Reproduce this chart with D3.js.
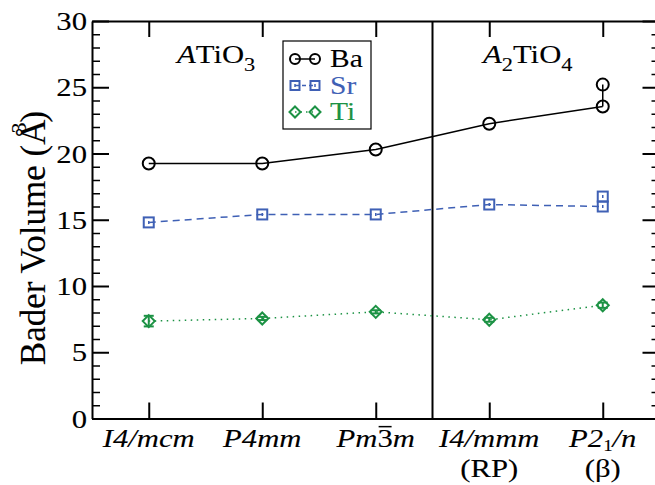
<!DOCTYPE html>
<html>
<head>
<meta charset="utf-8">
<script src="https://cdn.jsdelivr.net/npm/d3@7"></script>
<style>
  body { margin: 0; background: #fff; }
  svg text { font-family: "Liberation Serif", "Times New Roman", Tinos, "DejaVu Serif", serif; fill: currentColor; stroke: currentColor; stroke-width: 0.1; }
  .axis path, .axis line { stroke: #000; stroke-width: 2; }
  .minor line { stroke-width: 1.5; }
</style>
</head>
<body>
<svg id="chart" width="655" height="485"></svg>
<script>
// space groups along the x axis
var categories = ["I4/mcm", "P4mm", "Pm3m", "I4/mmm", "P21/n"];
var subLabels = ["", "", "", "(RP)", "(\u03b2)"];
var yTicks = [0, 5, 10, 15, 20, 25, 30];

// Bader volumes (A^3)
var baVol = [19.25, 19.25, 20.3, 22.25, 23.55];
var srVol = [14.8, 15.4, 15.4, 16.15, 16.0];
var tiVol = [7.35, 7.55, 8.05, 7.45, 8.55];
var tiErr = [0.4, 0.12, 0.12, 0.15, 0.2];
// second site in the beta phase
var baBeta = 25.2;
var srBeta = 16.75;

var svg = d3.select("#chart"),
    margin = {top: 21, left: 92},
    plotW = 567.5,
    plotH = 397.5;

var blue = "#3f60b5", green = "#1c9244";
var sx = 1.18; // the figure's lettering is a bit wide

var x = d3.scaleLinear().domain([-0.5, 4.5]).range([0, plotW]);
var y = d3.scaleLinear().domain([0, 30]).range([plotH, 0]);

var g = svg.append("g").attr("transform", "translate(" + margin.left + "," + margin.top + ")");

// horizontally widened text
function htext(parent, px, py, size, anchor, color) {
    var w = parent.append("g").attr("transform", "translate(" + px + "," + py + ") scale(" + sx + ",1)")
        .style("color", color || "#000");
    var t = w.append("text").attr("font-size", size).attr("text-anchor", anchor || "start");
    return {g: w, t: t};
}

var minorVals = d3.range(0, 31).filter(function(d) { return d % 5 != 0; });

// minor ticks left & right
g.append("g").attr("class", "axis minor")
    .call(d3.axisLeft(y).tickValues(minorVals).tickSize(-8).tickSizeOuter(0).tickFormat(""))
    .select(".domain").remove();
g.append("g").attr("class", "axis minor")
    .attr("transform", "translate(" + plotW + ",0)")
    .call(d3.axisRight(y).tickValues(minorVals).tickSize(-8).tickSizeOuter(0).tickFormat(""))
    .select(".domain").remove();

g.append("g").attr("class", "axis axis--y")
    .call(d3.axisLeft(y).tickValues(yTicks).tickSize(-17).tickSizeOuter(0).tickFormat(""));
g.append("g").attr("class", "axis")
    .attr("transform", "translate(" + plotW + ",0)")
    .call(d3.axisRight(y).tickValues(yTicks).tickSize(-17).tickSizeOuter(0).tickFormat(""));

g.append("g").attr("class", "axis axis--x")
    .attr("transform", "translate(0," + plotH + ")")
    .call(d3.axisBottom(x).tickValues(d3.range(categories.length)).tickSize(-16).tickSizeOuter(0).tickFormat(""));
g.append("g").attr("class", "axis")
    .call(d3.axisTop(x).tickValues(d3.range(categories.length)).tickSize(-16).tickSizeOuter(0).tickFormat(""));

// y tick labels
yTicks.forEach(function(v) {
    htext(g, -5, y(v), 26, "end").t.attr("dy", "0.35em").text(v);
});

// divider between perovskite and RP phases
g.append("line")
    .attr("x1", x(2.5)).attr("x2", x(2.5))
    .attr("y1", 0).attr("y2", plotH)
    .attr("stroke", "#000").attr("stroke-width", 2);

// x labels
categories.forEach(function(c, i) {
    var h = htext(g, x(i), plotH + 28, 26, "middle");
    var t = h.t.attr("font-style", "italic");
    if (c == "Pm3m") {
        t.append("tspan").text("Pm");
        t.append("tspan").attr("font-style", "normal").text("3");
        t.append("tspan").text("m");
        var b = t.node().getExtentOfChar(2);
        h.g.append("line")
            .attr("x1", b.x + 1).attr("x2", b.x + b.width - 1)
            .attr("y1", b.y + 3).attr("y2", b.y + 3)
            .attr("stroke", "#000").attr("stroke-width", 1.5);
    } else if (c == "P21/n") {
        t.append("tspan").text("P2");
        t.append("tspan").attr("font-size", 16).attr("dy", 4).attr("font-style", "normal").text("1");
        t.append("tspan").attr("dy", -4).text("/n");
    } else {
        t.text(c);
    }
    if (subLabels[i]) {
        htext(g, x(i), plotH + 58, 26, "middle").t.text(subLabels[i]);
    }
});

// y label
var yl = svg.append("text")
    .attr("transform", "translate(45,238) rotate(-90)")
    .attr("text-anchor", "middle")
    .attr("font-size", 35);
yl.append("tspan").text("Bader Volume (\u00c5");
yl.append("tspan").attr("font-size", 22).attr("dy", -19).attr("dx", -14).text("3");
yl.append("tspan").attr("dy", 19).text(")");

// structure family labels
function family(px, parts) {
    var t = htext(svg, px, 63, 26, "start").t;
    parts.forEach(function(p) {
        var s = t.append("tspan").text(p[0]);
        if (p[1] == "i") s.attr("font-style", "italic");
        if (p[1] == "sub") s.attr("font-size", 19).attr("dy", 8);
        if (p[2]) s.attr("dy", p[2]);
    });
}
family(177, [["A", "i"], ["TiO", "", 0], ["3", "sub"]]);
family(483, [["A", "i"], ["2", "sub"], ["TiO", "", -8], ["4", "sub"]]);

var idx = d3.range(categories.length);

function lineOf(vals) {
    return d3.line().x(function(d, i) { return x(i); }).y(function(d) { return y(d); })(vals);
}

// lines
g.append("path").attr("d", lineOf(tiVol)).attr("fill", "none")
    .attr("stroke", green).attr("stroke-width", 1.5).attr("stroke-dasharray", "1.5,4.5");
g.append("path").attr("d", lineOf(srVol)).attr("fill", "none")
    .attr("stroke", blue).attr("stroke-width", 1.5).attr("stroke-dasharray", "7,5");
g.append("path").attr("d", lineOf(baVol)).attr("fill", "none")
    .attr("stroke", "#000").attr("stroke-width", 1.5);

// beta phase vertical connector
g.append("line").attr("x1", x(4)).attr("x2", x(4))
    .attr("y1", y(baVol[4])).attr("y2", y(baBeta)).attr("stroke", "#000").attr("stroke-width", 1.5);

// Ti error bars
var eb = g.append("g").attr("stroke", green).attr("stroke-width", 2);
idx.forEach(function(i) {
    eb.append("line").attr("x1", x(i)).attr("x2", x(i))
        .attr("y1", y(tiVol[i] - tiErr[i])).attr("y2", y(tiVol[i] + tiErr[i]));
    [-1, 1].forEach(function(s) {
        eb.append("line").attr("x1", x(i) - 5).attr("x2", x(i) + 5)
            .attr("y1", y(tiVol[i] + s * tiErr[i])).attr("y2", y(tiVol[i] + s * tiErr[i]));
    });
});

// markers
function circle(sel, cx, cy, r) {
    sel.append("circle").attr("cx", cx).attr("cy", cy).attr("r", r)
        .attr("fill", "none").attr("stroke", "#000").attr("stroke-width", 2);
}
function square(sel, cx, cy, s) {
    sel.append("rect").attr("x", cx - s / 2).attr("y", cy - s / 2).attr("width", s).attr("height", s)
        .attr("fill", "none").attr("stroke", blue).attr("stroke-width", 2);
    sel.append("line").attr("x1", cx).attr("x2", cx).attr("y1", cy - 1.5).attr("y2", cy + 1.5)
        .attr("stroke", blue).attr("stroke-width", 1.5);
}
function diamond(sel, cx, cy, s) {
    sel.append("path")
        .attr("d", "M" + cx + "," + (cy - s) + "L" + (cx + s) + "," + cy + "L" + cx + "," + (cy + s) + "L" + (cx - s) + "," + cy + "Z")
        .attr("fill", "none").attr("stroke", green).attr("stroke-width", 2);
}

var mk = g.append("g");
idx.forEach(function(i) {
    circle(mk, x(i), y(baVol[i]), 6);
    square(mk, x(i), y(srVol[i]), 10);
    diamond(mk, x(i), y(tiVol[i]), 6);
});
circle(mk, x(4), y(baBeta), 6);
square(mk, x(4), y(srBeta), 10);

// legend
var lg = svg.append("g").attr("transform", "translate(283,41)");
lg.append("rect").attr("width", 88).attr("height", 88)
    .attr("fill", "#fff").attr("stroke", "#000").attr("stroke-width", 1.2);
var rows = [
    {name: "Ba", color: "#000", dash: null},
    {name: "Sr", color: blue, dash: "4,3"},
    {name: "Ti", color: green, dash: "1.5,4"}
];
rows.forEach(function(r, i) {
    var cy = 18 + i * 26.5;
    lg.append("line").attr("x1", 12).attr("x2", 32).attr("y1", cy).attr("y2", cy)
        .attr("stroke", r.color).attr("stroke-width", 1.5).attr("stroke-dasharray", r.dash);
    [12, 32].forEach(function(cx) {
        if (i == 0) circle(lg, cx, cy, 5);
        if (i == 1) square(lg, cx, cy, 9);
        if (i == 2) diamond(lg, cx, cy, 5.5);
    });
    htext(lg, 47, cy + 8, 25, "start", r.color).t.text(r.name);
});
</script>
</body>
</html>
